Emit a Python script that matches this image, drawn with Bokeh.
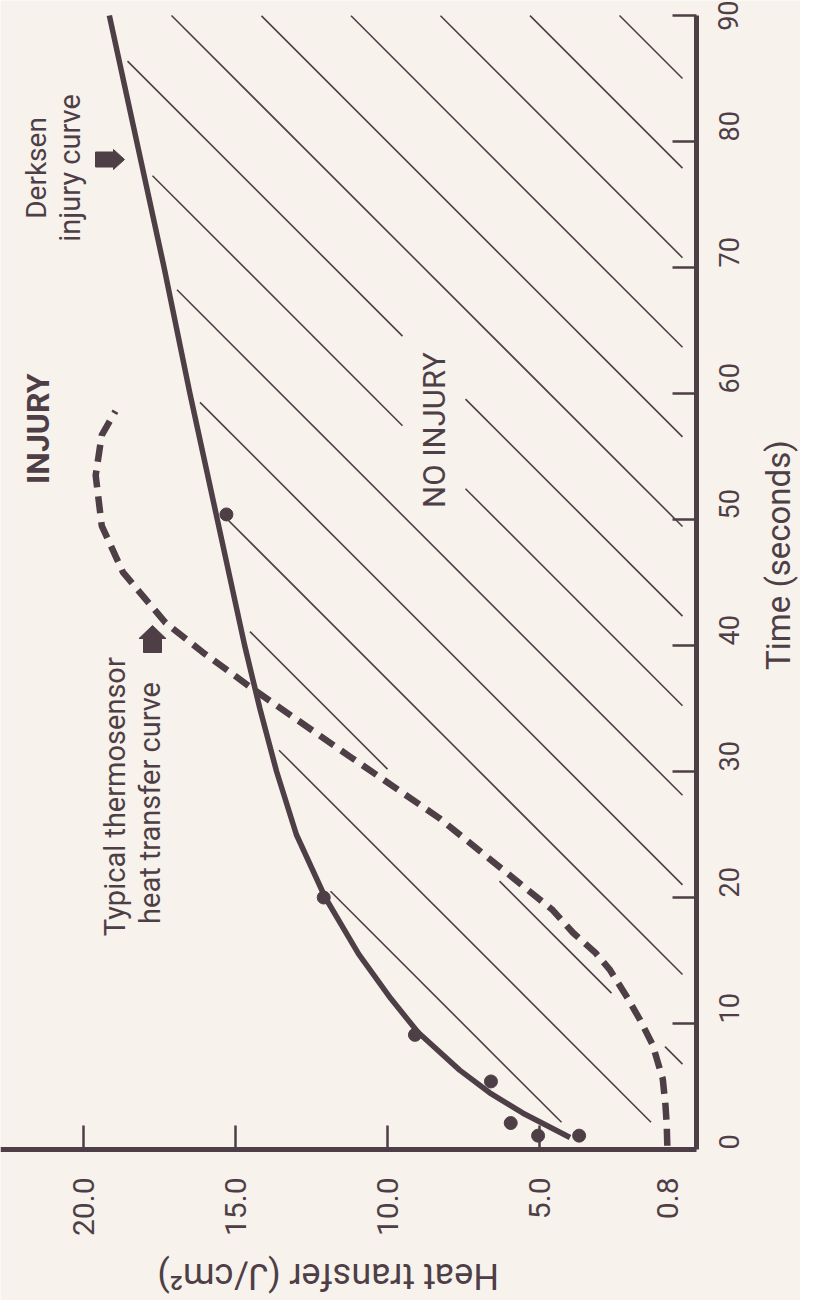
import math
import numpy as np
from bokeh.plotting import figure
from bokeh.models import Range1d, FixedTicker, Label, PrintfTickFormatter
from bokeh.embed import file_html
from bokeh.resources import INLINE

# ---------------- data ----------------
derksen_time = [0.95, 2.9, 4.5, 6.3, 9.3, 12.0, 15.5, 20.0, 25.0, 30.0, 35.0, 40.0, 45.0, 50.0, 60.0, 70.0, 80.0, 90.0]
derksen_heat = [4.0, 5.56, 6.64, 7.63, 9.0, 9.9, 10.95, 12.05, 13.0, 13.65, 14.2, 14.7, 15.15, 15.6, 16.5, 17.35, 18.25, 19.15]

thermo_time = [0.3, 2.0, 3.5, 5.6, 8.3, 10.3, 12.0, 14.3, 15.6, 17.2, 19.0, 22.0, 26.3, 31.2, 36.5, 39.5, 41.8, 45.8, 49.5, 53.5, 56.7, 58.6]
thermo_heat = [0.8, 0.82, 0.86, 0.95, 1.28, 1.7, 2.1, 2.7, 3.16, 3.9, 4.57, 6.1, 8.3, 11.25, 14.4, 16.1, 17.3, 18.7, 19.4, 19.6, 19.4, 18.95]

points_time = [1.1, 1.1, 2.1, 5.4, 9.1, 20.0, 50.4]
points_heat = [3.7, 5.05, 5.95, 6.6, 9.1, 12.1, 15.3]

time_ticks = [0, 10, 20, 30, 40, 50, 60, 70, 80, 90]
heat_ticks = [0.8, 5, 10, 15, 20]

# ---------------- layout / style ----------------
BG = "#f8f2ec"
INK = "#4e3f47"
FONT = "Roboto"
W, H = 800, 1300                    # canvas (page x 8..808, y 8..1308)
HEAT_AXIS = (22.73, -0.16)          # heat value at the left / right end of the heat axis
TIME_AXIS = (90.0, 0.0)             # time value at the top / bottom end of the time axis
X_LEFT, X_RIGHT = 8, 704            # page x of the heat axis ends
Y_TOP, Y_BOT = 23, 1157             # page y of the time axis ends
KX = (HEAT_AXIS[1] - HEAT_AXIS[0]) / (X_RIGHT - X_LEFT)
KY = (TIME_AXIS[1] - TIME_AXIS[0]) / (Y_BOT - Y_TOP)


def h_of(x):
    return HEAT_AXIS[0] + (np.asarray(x, float) - X_LEFT) * KX


def t_of(y):
    return TIME_AXIS[0] + (np.asarray(y, float) - Y_TOP) * KY


def px(h):
    return X_LEFT + (np.asarray(h, float) - HEAT_AXIS[0]) / KX


def py(t):
    return Y_TOP + (np.asarray(t, float) - TIME_AXIS[0]) / KY


p = figure(width=W, height=H, title=None,
           x_range=Range1d(float(h_of(8)), float(h_of(8 + W))),
           y_range=Range1d(float(t_of(8 + H)), float(t_of(8))),
           y_axis_location="right", output_backend="svg", toolbar_location=None,
           min_border=0, background_fill_color=BG, border_fill_color=BG, outline_line_color=None)
p.grid.visible = False

# ---------------- hatch lines of the "no injury" region ----------------
dxp = px(derksen_heat)
dyp = py(derksen_time)
order = np.argsort(dyp)
txp = px(thermo_heat)
typ = py(thermo_time)
A = np.stack([txp[:-1], typ[:-1]], 1)
B = np.stack([txp[1:], typ[1:]], 1)


def dist_thermo(X, Y):
    P = np.stack([X, Y], 1)[:, None, :]
    AB = (B - A)[None, :, :]
    AP = P - A[None, :, :]
    u = np.clip((AP * AB).sum(-1) / (AB * AB).sum(-1), 0, 1)
    C = A[None, :, :] + u[..., None] * AB
    return np.sqrt(((P - C) ** 2).sum(-1)).min(1)


text_box = (410, 473, 335, 515)
hx, hy = [], []
for k in range(14):
    c = -604 + 89.6 * k
    xs = np.arange(X_LEFT, X_RIGHT, 0.5)
    ys = xs + c
    m = (ys >= Y_TOP) & (ys <= 1130) & (xs <= 690)
    m &= xs >= np.interp(ys, dyp[order], dxp[order]) + 8
    m &= dist_thermo(xs, ys) >= 11
    m &= ~((xs > text_box[0]) & (xs < text_box[1]) & (ys > text_box[2]) & (ys < text_box[3]))
    idx = np.flatnonzero(m)
    if idx.size == 0:
        continue
    runs = np.split(idx, np.flatnonzero(np.diff(idx) > 1) + 1)
    for r in runs:
        if r.size < 4:
            continue
        hx.append(list(h_of(xs[r[[0, -1]]])))
        hy.append(list(t_of(ys[r[[0, -1]]])))
p.multi_line(hx, hy, line_color=INK, line_width=1.6)

# ---------------- curves and points ----------------
p.line(thermo_heat, thermo_time, line_color=INK, line_width=6.5, line_dash="17 9")
p.line(derksen_heat, derksen_time, line_color=INK, line_width=5.5, line_join="round")
p.scatter(points_heat, points_time, size=13, fill_color=INK, line_color=INK)


# ---------------- block arrows ----------------
def arrow(tip_x, tip_y, direction, body_w, body_l, head_w, head_l):
    if direction == "right":
        pts = [(tip_x, tip_y), (tip_x - head_l, tip_y - head_w / 2), (tip_x - head_l, tip_y - body_w / 2),
               (tip_x - head_l - body_l, tip_y - body_w / 2), (tip_x - head_l - body_l, tip_y + body_w / 2),
               (tip_x - head_l, tip_y + body_w / 2), (tip_x - head_l, tip_y + head_w / 2)]
    else:
        pts = [(tip_x, tip_y), (tip_x + head_w / 2, tip_y + head_l), (tip_x + body_w / 2, tip_y + head_l),
               (tip_x + body_w / 2, tip_y + head_l + body_l), (tip_x - body_w / 2, tip_y + head_l + body_l),
               (tip_x - body_w / 2, tip_y + head_l), (tip_x - head_w / 2, tip_y + head_l)]
    xs = [q[0] for q in pts]
    ys = [q[1] for q in pts]
    p.patch(list(h_of(xs)), list(t_of(ys)), fill_color=INK, line_color=INK, line_width=1)


arrow(132, 167, "right", 15, 18, 20, 11)
arrow(160, 633, "up", 18, 14, 27, 13)

# ---------------- axes (fixed inside the canvas-wide frame) ----------------
for ax, ticks in ((p.xaxis, heat_ticks), (p.yaxis, time_ticks)):
    ax.ticker = FixedTicker(ticks=ticks, minor_ticks=[v for v in ticks if v >= 5])
    ax.axis_line_color = INK
    ax.axis_line_width = 5
    ax.major_tick_in = 0
    ax.major_tick_out = 0
    ax.minor_tick_in = 24
    ax.minor_tick_out = 0
    ax.minor_tick_line_color = INK
    ax.minor_tick_line_width = 2.5
    ax.major_label_text_font = FONT
    ax.major_label_text_color = INK
    ax.major_label_orientation = math.pi / 2
p.xaxis.fixed_location = TIME_AXIS[1]
p.xaxis.bounds = (min(HEAT_AXIS), max(HEAT_AXIS))
p.yaxis.fixed_location = HEAT_AXIS[1]
p.yaxis.bounds = (min(TIME_AXIS), max(TIME_AXIS))
p.xaxis.formatter = PrintfTickFormatter(format="%.1f")
p.xaxis.major_label_text_font_size = "30px"
p.xaxis.major_label_standoff = 28
p.yaxis.major_label_text_font_size = "27px"
p.yaxis.major_label_standoff = 32


# ---------------- texts ----------------
def data_label(text, h, t, size, bold=False, angle=math.pi / 2):
    p.add_layout(Label(x=h, y=t, text=text, angle=angle, text_align="center",
                       text_baseline="middle", text_font=FONT, text_font_size=size,
                       text_font_style="bold" if bold else "normal", text_color=INK))


data_label("INJURY", 21.5, 57.2, "32px", bold=True)
data_label("NO INJURY", 8.45, 57.1, "31px")
data_label("Derksen", 21.55, 77.9, "28px")
data_label("injury curve", 20.46, 77.9, "29px")
data_label("Typical thermosensor", 18.95, 28.0, "29px")
data_label("heat transfer curve", 17.8, 27.5, "29px")
data_label("Heat transfer  (J/cm\u00b2)", 12.1, -10.0, "36px", angle=math.pi)
data_label("Time  (seconds)", -2.85, 47.5, "33px")

open("out.html", "w").write(file_html(p, INLINE))
